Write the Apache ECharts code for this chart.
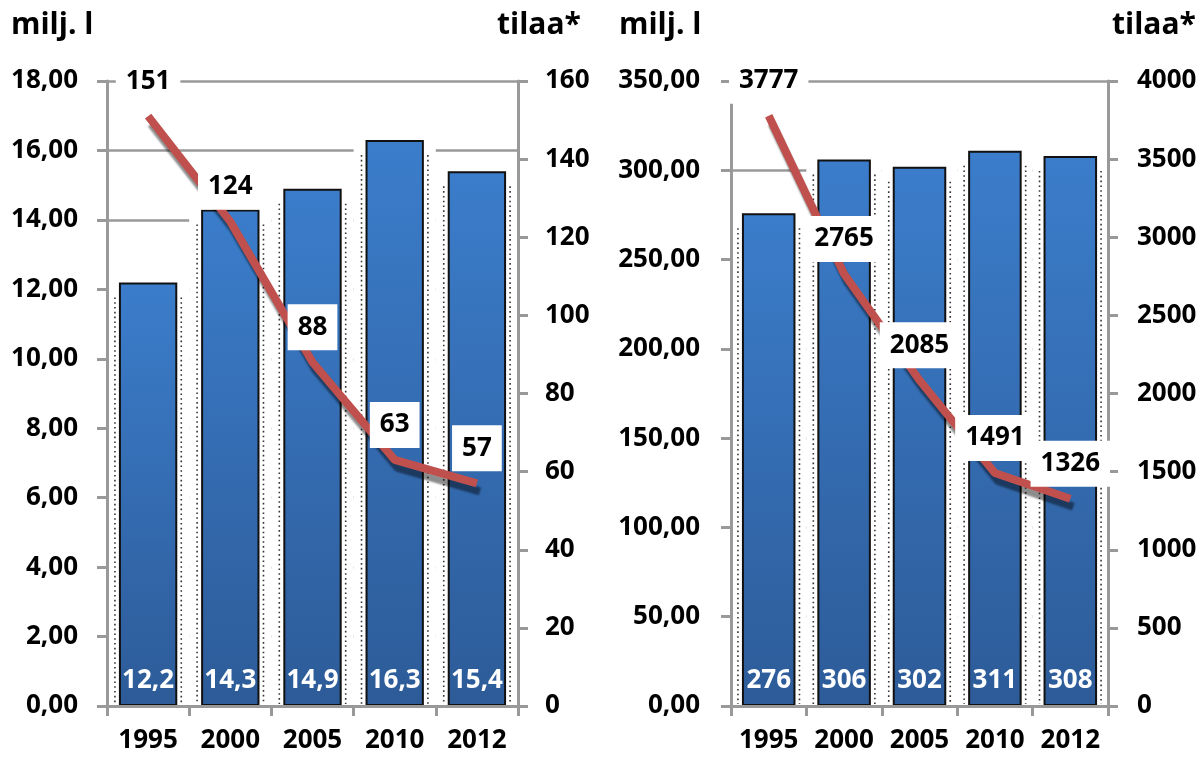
<!DOCTYPE html>
<html>
<head>
<meta charset="utf-8">
<script src="https://cdn.jsdelivr.net/npm/echarts@6/dist/echarts.min.js"></script>
<style>
html,body{margin:0;padding:0;background:#fff;}
#c{width:1201px;height:757px;}
</style>
</head>
<body>
<div id="c"></div>
<script>
const categories = ['1995', '2000', '2005', '2010', '2012'];
const volumeLeft = [12.2, 14.3, 14.9, 16.3, 15.4];
const farmsLeft = [151, 124, 88, 63, 57];
const volumeRight = [276, 306, 302, 311, 308];
const farmsRight = [3777, 2765, 2085, 1491, 1326];
const unitVolume = 'milj. l';
const unitFarms = 'tilaa*';

const FONT = '"Open Sans"';
const AXIS_GRAY = '#999999';

const chart = echarts.init(document.getElementById('c'), null, {renderer: 'canvas'});

function commaFmt(d) {
  return v => v.toFixed(d).replace('.', ',');
}

function backingRender(params, api) {
  const i = api.value(0), v = api.value(1);
  const top = api.coord([i, v]);
  const base = api.coord([i, 0]);
  const w = api.size([1, 0])[0];
  const bw = w * 0.71;
  const h = base[1] - top[1];
  const dot = {stroke: '#333', lineWidth: 1.6, lineDash: [1.6, 3.2]};
  return {
    type: 'group',
    children: [
      {type: 'rect', shape: {x: top[0] - w / 2, y: top[1], width: w, height: h}, style: {fill: '#fff'}},
      {type: 'line', shape: {x1: top[0] - bw / 2 - 4, y1: top[1] + 15, x2: top[0] - bw / 2 - 4, y2: base[1] - 2}, style: dot},
      {type: 'line', shape: {x1: top[0] + bw / 2 + 4, y1: top[1] + 15, x2: top[0] + bw / 2 + 4, y2: base[1] - 2}, style: dot}
    ]
  };
}

const labelText = {fontFamily: FONT, fontWeight: 'bold', fontSize: 26, color: '#000'};

function xAxisFor(gridIndex) {
  return {
    type: 'category', gridIndex, data: categories, z: 3,
    axisLine: {lineStyle: {color: AXIS_GRAY, width: 3}},
    axisTick: {show: true, length: 10, lineStyle: {color: AXIS_GRAY, width: 3}},
    axisLabel: Object.assign({margin: 22, interval: 0, hideOverlap: false}, labelText),
    splitLine: {show: false}
  };
}

function yAxisFor(gridIndex, position, max, interval, fmt, margin) {
  return {
    type: 'value', gridIndex, position, min: 0, max, interval, z: 3,
    axisLine: {show: true, lineStyle: {color: AXIS_GRAY, width: 3}},
    axisTick: {show: true, length: 10, lineStyle: {color: AXIS_GRAY, width: 3}},
    axisLabel: Object.assign({margin, formatter: fmt}, labelText),
    splitLine: {show: false}
  };
}

function splitAxisFor(gridIndex, max, interval) {
  return {
    type: 'value', gridIndex, position: 'left', min: 0, max, interval, z: 0,
    axisLine: {show: false}, axisTick: {show: false}, axisLabel: {show: false},
    splitLine: {show: true, lineStyle: {color: AXIS_GRAY, width: 2.5}}
  };
}

const barGradient = new echarts.graphic.LinearGradient(0, 0, 0, 1, [
  {offset: 0, color: '#3B7DCB'},
  {offset: 1, color: '#2D5B98'}
]);

function barSeries(xi, yi, data, fmt) {
  return {
    type: 'bar', xAxisIndex: xi, yAxisIndex: yi, data, barWidth: '71%', z: 2,
    itemStyle: {color: barGradient, borderColor: '#111', borderWidth: 2},
    label: {show: true, position: 'insideBottom', distance: 12,
      formatter: p => fmt(p.value), fontFamily: FONT, fontWeight: 'bold', fontSize: 26, color: '#fff'}
  };
}

function backingSeries(xi, yi, data) {
  return {
    type: 'custom', xAxisIndex: xi, yAxisIndex: yi, z: 1, silent: true, clip: false,
    renderItem: backingRender,
    encode: {x: 0, y: 1},
    data: data.map((v, i) => [i, v])
  };
}

function lineSeries(xi, yi, data) {
  return {
    type: 'line', xAxisIndex: xi, yAxisIndex: yi, data, z: 4,
    symbol: 'circle', symbolSize: 0, showSymbol: true,
    lineStyle: {color: '#C0504D', width: 8, shadowColor: 'rgba(0,0,0,0.45)', shadowBlur: 2, shadowOffsetX: 3, shadowOffsetY: 8},
    itemStyle: {color: '#C0504D'},
    label: {show: true, position: 'top', distance: 12, backgroundColor: '#fff',
      padding: [10, 10], lineHeight: 26,
      fontFamily: FONT, fontWeight: 'bold', fontSize: 26, color: '#000'}
  };
}

const option = {
  animation: false,
  backgroundColor: '#fff',
  grid: [
    {left: 107, top: 81, width: 411, height: 625},
    {left: 731, top: 81, width: 377, height: 625}
  ],
  xAxis: [xAxisFor(0), xAxisFor(1)],
  yAxis: [
    yAxisFor(0, 'left', 18, 2, commaFmt(2), 29),
    yAxisFor(0, 'right', 160, 20, v => String(v), 27),
    splitAxisFor(0, 18, 2),
    yAxisFor(1, 'left', 350, 50, commaFmt(2), 31),
    yAxisFor(1, 'right', 4000, 500, v => String(v), 29),
    splitAxisFor(1, 350, 50)
  ],
  graphic: [
    {type: 'text', left: 11, top: 10, style: {text: unitVolume, font: 'bold 30px ' + FONT, fill: '#000'}},
    {type: 'text', left: 497, top: 10, style: {text: unitFarms, font: 'bold 30px ' + FONT, fill: '#000'}},
    {type: 'text', left: 619, top: 10, style: {text: unitVolume, font: 'bold 30px ' + FONT, fill: '#000'}},
    {type: 'text', left: 1112, top: 10, style: {text: unitFarms, font: 'bold 30px ' + FONT, fill: '#000'}}
  ],
  series: [
    backingSeries(0, 0, volumeLeft),
    barSeries(0, 0, volumeLeft, commaFmt(1)),
    lineSeries(0, 1, farmsLeft),
    backingSeries(1, 3, volumeRight),
    barSeries(1, 3, volumeRight, v => String(v)),
    lineSeries(1, 4, farmsRight)
  ]
};
chart.setOption(option);
</script>
</body>
</html>
